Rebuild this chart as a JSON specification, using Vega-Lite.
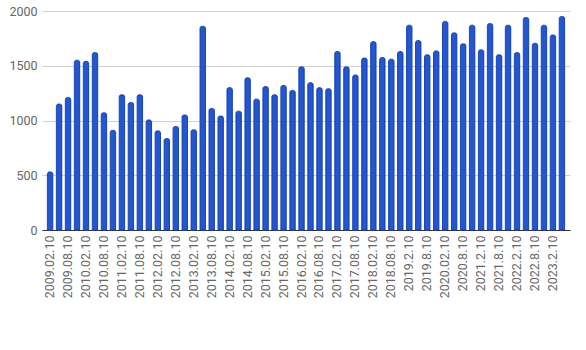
{
  "$schema": "https://vega.github.io/schema/vega-lite/v6.json",
  "width": 528,
  "height": 219,
  "autosize": "none",
  "padding": {"left": 42, "top": 11, "right": 16, "bottom": 120},
  "background": "white",
  "config": {"view": {"stroke": null}, "font": "Roboto"},
  "data": {"values": [
    {"d": "2009.02.10", "v": 530},
    {"d": "2009.05.10", "v": 1150},
    {"d": "2009.08.10", "v": 1210},
    {"d": "2009.11.10", "v": 1550},
    {"d": "2010.02.10", "v": 1540},
    {"d": "2010.05.10", "v": 1620},
    {"d": "2010.08.10", "v": 1070},
    {"d": "2010.11.10", "v": 910},
    {"d": "2011.02.10", "v": 1235},
    {"d": "2011.05.10", "v": 1165},
    {"d": "2011.08.10", "v": 1235},
    {"d": "2011.11.10", "v": 1005},
    {"d": "2012.02.10", "v": 905},
    {"d": "2012.05.10", "v": 835},
    {"d": "2012.08.10", "v": 945},
    {"d": "2012.11.10", "v": 1050},
    {"d": "2013.02.10", "v": 915},
    {"d": "2013.05.10", "v": 1860},
    {"d": "2013.08.10", "v": 1110},
    {"d": "2013.11.10", "v": 1040},
    {"d": "2014.02.10", "v": 1300},
    {"d": "2014.05.10", "v": 1085},
    {"d": "2014.08.10", "v": 1390},
    {"d": "2014.11.10", "v": 1195},
    {"d": "2015.02.10", "v": 1310},
    {"d": "2015.05.10", "v": 1235},
    {"d": "2015.08.10", "v": 1320},
    {"d": "2015.11.10", "v": 1275},
    {"d": "2016.02.10", "v": 1490},
    {"d": "2016.05.10", "v": 1345},
    {"d": "2016.08.10", "v": 1300},
    {"d": "2016.11.10", "v": 1290},
    {"d": "2017.02.10", "v": 1630},
    {"d": "2017.05.10", "v": 1490},
    {"d": "2017.08.10", "v": 1415},
    {"d": "2017.11.10", "v": 1570},
    {"d": "2018.02.10", "v": 1720},
    {"d": "2018.05.10", "v": 1575},
    {"d": "2018.08.10", "v": 1560},
    {"d": "2018.11.10", "v": 1630},
    {"d": "2019.2.10", "v": 1870},
    {"d": "2019.5.10", "v": 1730},
    {"d": "2019.8.10", "v": 1600},
    {"d": "2019.11.10", "v": 1635},
    {"d": "2020.02.10", "v": 1905},
    {"d": "2020.05.10", "v": 1800},
    {"d": "2020.8.10", "v": 1700},
    {"d": "2020.11.10", "v": 1870},
    {"d": "2021.2.10", "v": 1645},
    {"d": "2021.5.10", "v": 1885},
    {"d": "2021.8.10", "v": 1600},
    {"d": "2021.11.10", "v": 1870},
    {"d": "2022.2.10", "v": 1620},
    {"d": "2022.5.10", "v": 1940},
    {"d": "2022.8.10", "v": 1705},
    {"d": "2022.11.10", "v": 1870},
    {"d": "2023.2.10", "v": 1780},
    {"d": "2023.5.10", "v": 1950}
  ]},
  "mark": {"type": "bar", "fill": "#2456cf", "stroke": "#1a46b3", "strokeWidth": 1, "cornerRadiusTopLeft": 2, "cornerRadiusTopRight": 2},
  "encoding": {
    "x": {
      "field": "d", "type": "nominal", "sort": null, "title": null,
      "scale": {"paddingInner": 0.4, "paddingOuter": 0.6},
      "axis": {
        "values": ["2009.02.10","2009.08.10","2010.02.10","2010.08.10","2011.02.10","2011.08.10","2012.02.10","2012.08.10","2013.02.10","2013.08.10","2014.02.10","2014.08.10","2015.02.10","2015.08.10","2016.02.10","2016.08.10","2017.02.10","2017.08.10","2018.02.10","2018.08.10","2019.2.10","2019.8.10","2020.02.10","2020.8.10","2021.2.10","2021.8.10","2022.2.10","2022.8.10","2023.2.10"],
        "labelAngle": -90, "labelFontSize": 12.5, "labelColor": "#666666",
        "labelPadding": 5, "labelAlign": "right", "labelBaseline": "middle",
        "domainColor": "#333333", "domainWidth": 1, "ticks": false, "labelOverlap": false
      }
    },
    "y": {
      "field": "v", "type": "quantitative", "title": null,
      "scale": {"domain": [0, 2000]},
      "axis": {
        "values": [0, 500, 1000, 1500, 2000], "format": "d",
        "labelFontSize": 12.5, "labelColor": "#666666", "labelPadding": 5,
        "domain": false, "ticks": false, "gridColor": "#d0d0d0"
      }
    }
  }
}
